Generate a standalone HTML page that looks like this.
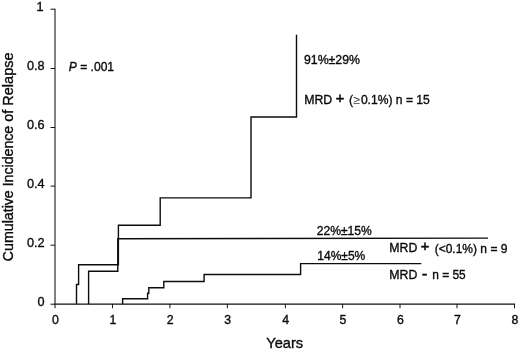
<!DOCTYPE html>
<html><head><meta charset="utf-8">
<style>
html,body{margin:0;padding:0;background:#fff;}
svg{display:block;}
text{font-family:"Liberation Sans",sans-serif;font-size:12.3px;fill:#0a0a0a;stroke:#0a0a0a;stroke-width:0.35px;}
</style></head><body>
<svg width="520" height="352" viewBox="0 0 520 352">
<rect width="520" height="352" fill="#fff"/>
<g stroke="#111" stroke-width="1" fill="none">
<path d="M55 8.8V304.1H515" stroke-width="1.05"/>
<path d="M50.5 9.2H55M50.5 68.5H55M50.5 127.5H55M50.5 186.1H55M50.5 245.2H55M50.5 304.2H55"/>
<path d="M55 304.1V308.2M112.5 304.1V308.2M169.9 304.1V308.2M227.35 304.1V308.2M285.35 304.1V308.2M342.65 304.1V308.2M400 304.1V308.2M457 304.1V308.2M514.5 304.1V308.2"/>
</g>
<g stroke="#0c0c0c" stroke-width="1.4" fill="none" stroke-linejoin="miter">
<path d="M76.5 304.2V284.5H78.6V264.7H118.4V225.3H160.2V197.9H251V117H296.5V34.8"/>
<path d="M88.6 304.2V271.3H117.8V238.75L488 238.15"/>
<path d="M122.6 304.2V298.8H147.6V293.2H148.8V287.8H163.8V281.5H204.1V274.5H300.6V263.6H421.3"/>
</g>
<g text-anchor="end">
<text x="43.6" y="10.6" style="font-size:12.7px">1</text>
<text x="44.6" y="70.3" style="font-size:12.7px">0.8</text>
<text x="44.6" y="129.3" style="font-size:12.7px">0.6</text>
<text x="44.6" y="187.6" style="font-size:12.7px">0.4</text>
<text x="44.6" y="246.8" style="font-size:12.7px">0.2</text>
<text x="44.6" y="305.9" style="font-size:12.7px">0</text>
</g>
<g text-anchor="middle">
<text x="55.3" y="324.4">0</text>
<text x="112.8" y="324.4">1</text>
<text x="170.2" y="324.4">2</text>
<text x="227.65" y="324.4">3</text>
<text x="285.65" y="324.4">4</text>
<text x="342.95" y="324.4">5</text>
<text x="400.3" y="324.4">6</text>
<text x="457.3" y="324.4">7</text>
<text x="514.8" y="324.4">8</text>
<text x="284.700" y="348.300" style="font-size:14.6px">Years</text>
<g text-anchor="start"><text transform="translate(12.900 261.200) rotate(-90)" style="font-size:14.2px">Cumulative</text>
<text transform="translate(12.900 186.300) rotate(-90)" style="font-size:14.13px">Incidence</text>
<text transform="translate(12.900 121.700) rotate(-90)" style="font-size:14.3px">of</text>
<text transform="translate(12.900 105.660) rotate(-90)" style="font-size:14.49px">Relapse</text></g>
</g>
<text x="68.700" y="70.700" style="font-size:12.1px"><tspan font-style="italic">P</tspan> = .001</text>
<text x="304" y="64">91%±29%</text>
<text y="104"><tspan x="304.200">MRD</tspan><tspan x="335.800" y="102.900" style="font-size:14.5px;stroke-width:0.55px">+</tspan><tspan x="349" y="104">(</tspan><tspan x="353.500" style="font-size:12px;stroke-width:0;fill:#333">≥</tspan><tspan x="360.900" style="font-size:12.1px">0.1%) n = 15</tspan></text>
<text x="316.700" y="235" style="font-size:12.1px">22%±15%</text>
<text y="252.200"><tspan x="389.300">MRD</tspan><tspan x="420.700" y="250.900" style="font-size:14.5px;stroke-width:0.55px">+</tspan><tspan x="434.700" y="252.500" style="font-size:12px">(&lt;0.1%) n = 9</tspan></text>
<text x="317.300" y="259.700" style="font-size:12px">14%±5%</text>
<text y="279.300"><tspan x="389.300">MRD</tspan><tspan x="421.700" y="278.500" style="font-size:17px;stroke-width:0.5px">-</tspan><tspan x="432.300" y="279.300" style="font-size:11.9px">n = 55</tspan></text>
</svg>
</body></html>
